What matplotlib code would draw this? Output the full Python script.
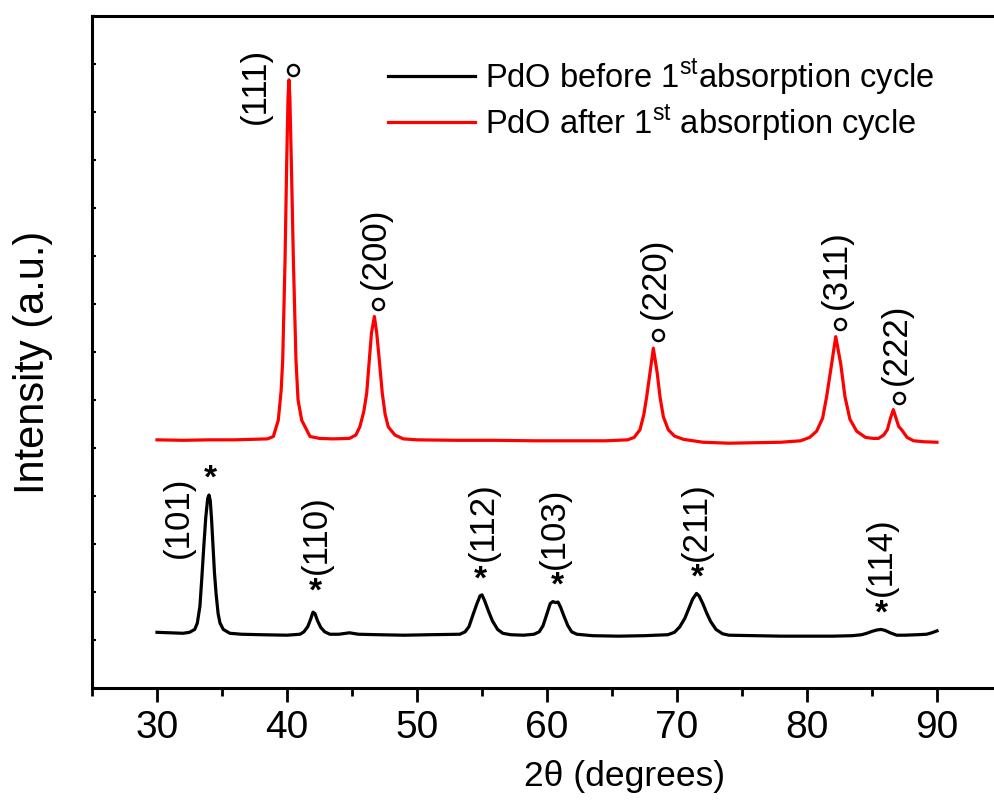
import numpy as np
import matplotlib
matplotlib.use("Agg")
import matplotlib.pyplot as plt
from matplotlib.ticker import MultipleLocator, NullFormatter

plt.rcParams['font.family'] = ['Liberation Sans', 'DejaVu Sans']
plt.rcParams['mathtext.fontset'] = 'custom'
plt.rcParams['mathtext.rm'] = 'Liberation Sans'

# XRD pattern before absorption (arbitrary units)
before_x = [30.0, 31.0, 32.0, 32.5, 32.9, 33.1, 33.3, 33.45, 33.6, 33.75, 33.9, 34.0,
            34.1, 34.2, 34.3, 34.42, 34.55, 34.7, 34.85, 35.1, 35.6, 36.5, 38.0, 40.0,
            41.0, 41.3, 41.6, 41.8, 42.0, 42.15, 42.35, 42.6, 42.9, 43.3, 44.0, 44.8,
            45.5, 47.0, 49.0, 51.0, 53.3, 53.7, 54.0, 54.3, 54.6, 54.85, 55.0, 55.2,
            55.5, 55.8, 56.2, 56.6, 57.2, 58.2, 59.0, 59.4, 59.7, 60.0, 60.25, 60.45,
            60.65, 60.85, 61.05, 61.3, 61.6, 61.9, 62.3, 63.5, 65.5, 67.5, 69.3, 69.8,
            70.2, 70.6, 70.9, 71.2, 71.5, 71.7, 72.0, 72.3, 72.6, 73.0, 73.5, 74.0,
            76.0, 78.0, 80.0, 82.0, 83.5, 84.2, 84.6, 85.0, 85.4, 85.7, 86.0, 86.4,
            86.9, 87.5, 88.5, 89.2, 89.6, 90.0]
before_y = [1.16, 1.15, 1.14, 1.16, 1.22, 1.35, 1.70, 2.30, 2.95, 3.55, 3.95, 4.02,
            3.90, 3.50, 3.00, 2.40, 1.95, 1.55, 1.35, 1.22, 1.14, 1.12, 1.11, 1.10,
            1.12, 1.17, 1.28, 1.42, 1.58, 1.55, 1.40, 1.26, 1.17, 1.12, 1.12, 1.15,
            1.12, 1.11, 1.10, 1.11, 1.12, 1.17, 1.28, 1.52, 1.75, 1.92, 1.94, 1.82,
            1.60, 1.40, 1.22, 1.14, 1.11, 1.10, 1.12, 1.17, 1.30, 1.55, 1.76, 1.80,
            1.78, 1.79, 1.68, 1.50, 1.30, 1.17, 1.12, 1.09, 1.08, 1.09, 1.11, 1.16,
            1.27, 1.45, 1.65, 1.85, 1.97, 1.92, 1.75, 1.55, 1.38, 1.22, 1.13, 1.10,
            1.09, 1.08, 1.08, 1.08, 1.09, 1.11, 1.14, 1.18, 1.21, 1.22, 1.20, 1.15,
            1.10, 1.10, 1.11, 1.12, 1.15, 1.19]

# XRD pattern after absorption
after_x = [30.0, 32.0, 34.0, 36.0, 38.5, 38.95, 39.33, 39.55, 39.67, 39.85, 39.98, 40.08,
           40.15, 40.22, 40.33, 40.49, 40.69, 40.85, 41.13, 41.77, 42.5, 43.5, 44.8, 45.3,
           45.6, 45.9, 46.13, 46.33, 46.5, 46.72, 46.9, 47.1, 47.33, 47.55, 47.79, 48.3,
           48.95, 50.0, 53.0, 56.0, 59.0, 62.0, 64.5, 66.2, 66.7, 67.15, 67.45, 67.67,
           67.92, 68.18, 68.48, 68.69, 68.95, 69.33, 69.8, 70.5, 72.0, 74.0, 76.0, 78.0,
           79.5, 80.2, 80.74, 81.2, 81.51, 81.9, 82.21, 82.59, 82.92, 83.3, 83.82, 84.5,
           85.1, 85.5, 85.9, 86.18, 86.42, 86.64, 86.85, 87.05, 87.28, 87.7, 88.2, 89.0,
           90.0]
after_y = [5.17, 5.16, 5.17, 5.17, 5.19, 5.24, 5.58, 6.20, 6.83, 8.92, 11.00, 12.30,
           12.67, 12.30, 11.00, 8.92, 6.83, 6.00, 5.58, 5.24, 5.20, 5.19, 5.20, 5.27,
           5.44, 5.75, 6.14, 6.83, 7.40, 7.74, 7.40, 6.83, 6.14, 5.70, 5.44, 5.27,
           5.19, 5.17, 5.16, 5.16, 5.15, 5.15, 5.15, 5.17, 5.22, 5.38, 5.70, 6.07,
           6.56, 7.08, 6.56, 6.07, 5.65, 5.38, 5.25, 5.18, 5.12, 5.10, 5.11, 5.12,
           5.15, 5.22, 5.35, 5.62, 6.07, 6.76, 7.32, 6.76, 6.07, 5.60, 5.35, 5.22,
           5.20, 5.20, 5.27, 5.38, 5.62, 5.80, 5.62, 5.45, 5.38, 5.22, 5.15, 5.13,
           5.12]

# peak annotations
pdo_hkl = ['(101)', '(110)', '(112)', '(103)', '(211)', '(114)']
pdo_star_x = [34.08, 42.2, 54.9, 60.8, 71.56, 85.7]
pdo_star_y = [4.36, 2.00, 2.25, 2.13, 2.28, 1.54]
pdo_lab_x = [31.64, 42.28, 55.1, 60.6, 71.5, 85.75]
pdo_lab_y = [3.56, 3.20, 3.46, 3.33, 3.46, 2.73]

pd_hkl = ['(111)', '(200)', '(220)', '(311)', '(222)']
pd_circ_x = [40.49, 47.0, 68.56, 82.54, 87.1]
pd_circ_y = [12.875, 8.01, 7.35, 7.58, 6.04]
pd_lab_x = [37.6, 46.77, 68.3, 82.28, 86.9]
pd_lab_y = [12.55, 9.15, 8.54, 8.72, 7.17]

fig = plt.figure(figsize=(9.94, 8.05), dpi=100)
ax = fig.add_axes([92 / 994, 117 / 805, 910 / 994, 672 / 805])

ax.plot(before_x, before_y, color='black', lw=2.3, label='PdO before 1$^{\\mathrm{st}}$absorption cycle')
ax.plot(after_x, after_y, color='red', lw=2.3, label='PdO after 1$^{\\mathrm{st}}$ absorption cycle')

for lab, sx, sy, lx, ly in zip(pdo_hkl, pdo_star_x, pdo_star_y, pdo_lab_x, pdo_lab_y):
    ax.text(sx, sy, '*', fontsize=24, fontweight='bold', ha='center', va='center')
    ax.text(lx, ly, lab, fontsize=25, rotation=90, ha='center', va='center')

ax.plot(pd_circ_x, pd_circ_y, 'o', ms=8, mfc='none', mec='black', mew=1.7)
for lab, lx, ly in zip(pd_hkl, pd_lab_x, pd_lab_y):
    ax.text(lx, ly, lab, fontsize=25, rotation=90, ha='center', va='center')

ax.set_xlim(25, 95)
ax.set_ylim(0, 14)
ax.xaxis.set_major_locator(MultipleLocator(10))
ax.xaxis.set_minor_locator(MultipleLocator(5))
ax.yaxis.set_major_locator(MultipleLocator(1))
ax.yaxis.set_major_formatter(NullFormatter())
ax.tick_params(axis='x', which='major', direction='out', length=10, width=2, labelsize=28, pad=6)
ax.tick_params(axis='x', which='minor', direction='out', length=6, width=2)
ax.tick_params(axis='y', which='major', direction='in', length=3, width=1.5)
for s in ax.spines.values():
    s.set_linewidth(2.2)

ax.set_xlabel('2θ (degrees)', fontsize=25.5)
ax.xaxis.set_label_coords(0.585, -0.107)
ax.set_ylabel('Intensity (a.u.)', fontsize=30)
ax.yaxis.set_label_coords(-0.043, 0.484)

ax.legend(loc='upper left', bbox_to_anchor=(0.325, 0.94), frameon=False, fontsize=23.5,
          handlelength=2.67, handletextpad=0.3, labelspacing=0.16, borderaxespad=0, borderpad=0)

fig.savefig('out.png', dpi=100)
